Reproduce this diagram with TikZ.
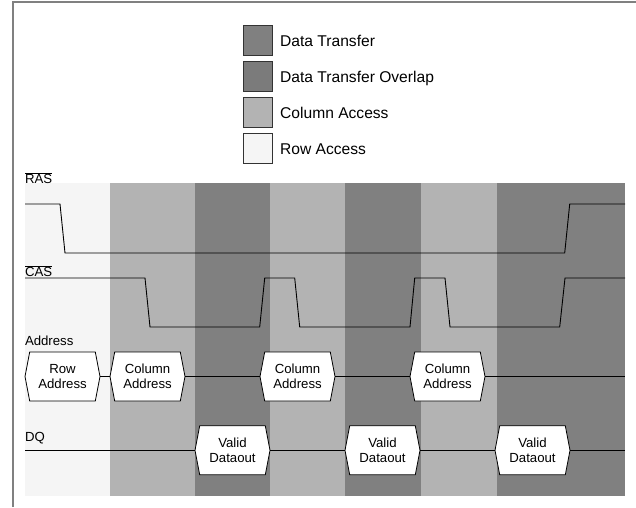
\documentclass[tikz,border=0pt]{standalone}
\usepackage{fontspec}
\setmainfont{Liberation Sans}
\pgfdeclarelayer{bg}
\pgfdeclarelayer{hexl}
\pgfsetlayers{bg,hexl,main}
\definecolor{rowc}{HTML}{F5F5F5}
\definecolor{colc}{HTML}{B3B3B3}
\definecolor{datc}{HTML}{808080}
\definecolor{ovlc}{HTML}{7B7B7B}
\definecolor{framec}{HTML}{808080}
\tikzset{
  sig/.style={line width=0.9pt, black, line join=miter},
  hexnode/.style={minimum width=75pt, minimum height=49pt, inner sep=0pt, outer sep=0pt, align=center, font=\fontsize{13.2}{15}\selectfont},
  hexpath/.style={draw=black, fill=white, line width=0.8pt},
  siglabel/.style={anchor=base west, inner sep=0pt, outer sep=0pt, font=\fontsize{13.2}{15}\selectfont},
  legbox/.style={draw=black!80, line width=0.7pt, minimum width=29pt, minimum height=30pt, inner sep=0pt, outer sep=0pt},
  legtext/.style={anchor=base west, inner sep=0pt, font=\fontsize{15.6}{18}\selectfont},
}
\begin{document}
\begin{tikzpicture}[x=1pt,y=-1pt]
\useasboundingbox (0,0) rectangle (636,507);
% frame
\draw[framec, line width=2pt] (13,507) -- (13,2) -- (636,2);
% shading bands
\begin{pgfonlayer}{bg}
\fill[rowc] (25,182.7) rectangle (110,496);
\fill[colc] (110,182.7) rectangle (195,496);
\fill[datc] (195,182.7) rectangle (270,496);
\fill[colc] (270,182.7) rectangle (345,496);
\fill[datc] (345,182.7) rectangle (421,496);
\fill[colc] (421,182.7) rectangle (497,496);
\fill[datc] (497,182.7) rectangle (625,496);
\end{pgfonlayer}
% legend
\node[legbox, fill=datc] (lb1) at (257.5,40) {};
\node[legbox, fill=ovlc] (lb2) at (257.5,76) {};
\node[legbox, fill=colc] (lb3) at (257.5,112) {};
\node[legbox, fill=rowc] (lb4) at (257.5,148) {};
\node[legtext] (lt1) at (280,46) {Data Transfer};
\node[legtext] (lt2) at (280,82) {Data Transfer Overlap};
\node[legtext] (lt3) at (280,118) {Column Access};
\node[legtext] (lt4) at (280,154) {Row Access};
% signal labels
\node[siglabel] (ras) at (25,183) {RAS};
\draw[line width=0.7pt] (ras.north west) -- (ras.north east);
\node[siglabel] (cas) at (25,276) {CAS};
\draw[line width=0.7pt] (cas.north west) -- (cas.north east);
\node[siglabel] (addr) at (25,345) {Address};
\node[siglabel] (dq) at (25,441.7) {DQ};
% RAS waveform
\draw[sig] (25,204) -- (60,204) -- (65,253) -- (564.7,253) -- (569.7,204) -- (625,204);
% CAS waveform
\draw[sig] (25,278) -- (145,278) -- (150,327) -- (259.7,327) -- (264.7,278)
  -- (294.7,278) -- (299.7,327) -- (410,327) -- (414.7,278)
  -- (445,278) -- (450,327) -- (559.7,327) -- (565,278) -- (625,278);
% address bus
\node[hexnode] (ra) at (62.5,376.5) {Row\\Address};
\node[hexnode] (ca1) at (147.5,376.5) {Column\\Address};
\node[hexnode] (ca2) at (297.5,376.5) {Column\\Address};
\node[hexnode] (ca3) at (447.5,376.5) {Column\\Address};
\coordinate (aend) at (625,376.5);
% data bus
\node[hexnode] (vd1) at (232.5,450.3) {Valid\\Dataout};
\node[hexnode] (vd2) at (382.5,450.3) {Valid\\Dataout};
\node[hexnode] (vd3) at (532.5,450.3) {Valid\\Dataout};
\coordinate (dstart) at (25,450.3);
\coordinate (dend) at (625,450.3);
\begin{pgfonlayer}{hexl}
\foreach \n in {ra,ca1,ca2,ca3,vd1,vd2,vd3}
  \draw[hexpath] (\n.west) -- ([xshift=4.7pt]\n.north west) -- ([xshift=-4.7pt]\n.north east)
    -- (\n.east) -- ([xshift=-4.7pt]\n.south east) -- ([xshift=4.7pt]\n.south west) -- cycle;
\end{pgfonlayer}
\draw[sig] (ra.east) -- (ca1.west);
\draw[sig] (ca1.east) -- (ca2.west);
\draw[sig] (ca2.east) -- (ca3.west);
\draw[sig] (ca3.east) -- (aend);
\draw[sig] (dstart) -- (vd1.west);
\draw[sig] (vd1.east) -- (vd2.west);
\draw[sig] (vd2.east) -- (vd3.west);
\draw[sig] (vd3.east) -- (dend);
\end{tikzpicture}
\end{document}
